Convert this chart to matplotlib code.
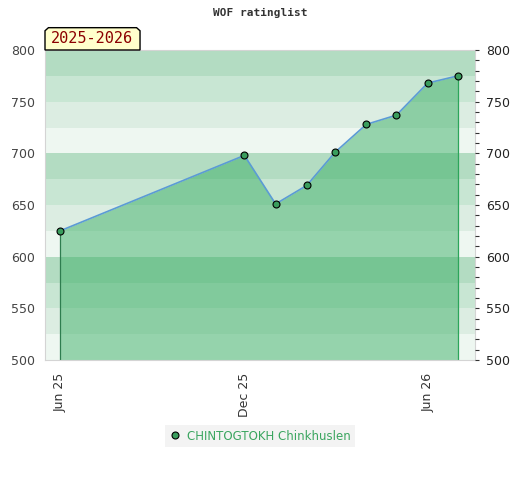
import datetime as dt
import matplotlib
matplotlib.use("Agg")
import matplotlib.pyplot as plt
import matplotlib.dates as mdates
from matplotlib.patches import Polygon
from matplotlib.ticker import MultipleLocator

# rating history (first of each month)
dates = [dt.date(2025, 6, 1), dt.date(2025, 12, 1), dt.date(2026, 1, 1),
         dt.date(2026, 2, 1), dt.date(2026, 3, 1), dt.date(2026, 4, 1),
         dt.date(2026, 5, 1), dt.date(2026, 6, 1), dt.date(2026, 7, 1)]
ratings = [625, 698, 651, 669, 701, 728, 737, 768, 775]
player = "CHINTOGTOKH Chinkhuslen"
season = "2025-2026"
title = "WOF ratinglist"
xticks = [dt.date(2025, 6, 1), dt.date(2025, 12, 1), dt.date(2026, 6, 1)]
ymin, ymax = 500, 800
band_colors = ["#eef7f1", "#dcede2", "#c8e6d3", "#b3dcc2"]

fig = plt.figure(figsize=(5.2, 4.8), dpi=100)
ax = fig.add_axes([45 / 520, 1 - 360 / 480, 430 / 520, 310 / 480])

# background stripes, 25 points each, repeating every 100
for i, lo in enumerate(range(ymin, ymax, 25)):
    ax.axhspan(lo, lo + 25, color=band_colors[i % 4], lw=0, zorder=0)

x = mdates.date2num(dates)
ax.fill_between(x, ratings, ymin, color="#32ac60", alpha=0.47, lw=0, zorder=1)
ax.vlines(x[0], ymin, ratings[0], color="#2e7d4f", lw=0.9, zorder=2)
ax.vlines(x[-1], ymin, ratings[-1], color="#2ca55a", lw=0.9, zorder=2)
ax.plot(x, ratings, color="#5b9bd5", lw=1.2, zorder=3)
ax.plot(x, ratings, "o", ms=5, mfc="#3a9d5d", mec="black", mew=0.8, zorder=4,
        label=player)

ax.set_xlim(mdates.date2num(dt.date(2025, 5, 17)), mdates.date2num(dt.date(2026, 7, 18)))
ax.set_ylim(ymin, ymax)
ax.set_xticks(mdates.date2num(xticks))
ax.xaxis.set_major_formatter(mdates.DateFormatter("%b %y"))
ax.yaxis.set_major_locator(MultipleLocator(50))
ax.tick_params(axis="x", length=0, labelrotation=90, labelsize=9, colors="#333333", pad=9)
ax.tick_params(axis="y", length=0, labelsize=9, colors="#444444", pad=7)
for s in ax.spines.values():
    s.set_color("#d4d4d4")

ax2 = ax.twinx()
ax2.set_ylim(ymin, ymax)
ax2.yaxis.set_major_locator(MultipleLocator(50))
ax2.yaxis.set_minor_locator(MultipleLocator(10))
ax2.tick_params(axis="y", which="both", direction="out", length=3, width=0.8,
                color="#333333", labelsize=9, labelcolor="#222222", pad=5)
for s in ax2.spines.values():
    s.set_visible(False)

# season tag with bevelled top corners
tag = Polygon([(0, 1), (0, 1.062), (0.008, 1.072), (0.213, 1.072), (0.221, 1.062), (0.221, 1)],
              closed=True, transform=ax.transAxes, facecolor="#ffffcc", edgecolor="black",
              lw=1, clip_on=False, zorder=5)
ax.add_patch(tag)
ax.text(0.11, 1.036, season, transform=ax.transAxes, ha="center", va="center",
        family="DejaVu Sans Mono", fontsize=11, color="#8b0000", zorder=6)

fig.text(0.5, 0.972, title, ha="center", va="center", family="DejaVu Sans Mono",
         fontweight="bold", fontsize=8, color="#333333")

leg = fig.legend(loc="center", bbox_to_anchor=(0.5, 1 - 436 / 480), frameon=True,
                 fontsize=8.5, handletextpad=0.5, borderpad=0.4, handlelength=1.0,
                 fancybox=False)
leg.get_frame().set_facecolor("#f0f0f0")
leg.get_frame().set_edgecolor("none")
for t in leg.get_texts():
    t.set_color("#3aa55f")

fig.savefig("out.png", dpi=100)
